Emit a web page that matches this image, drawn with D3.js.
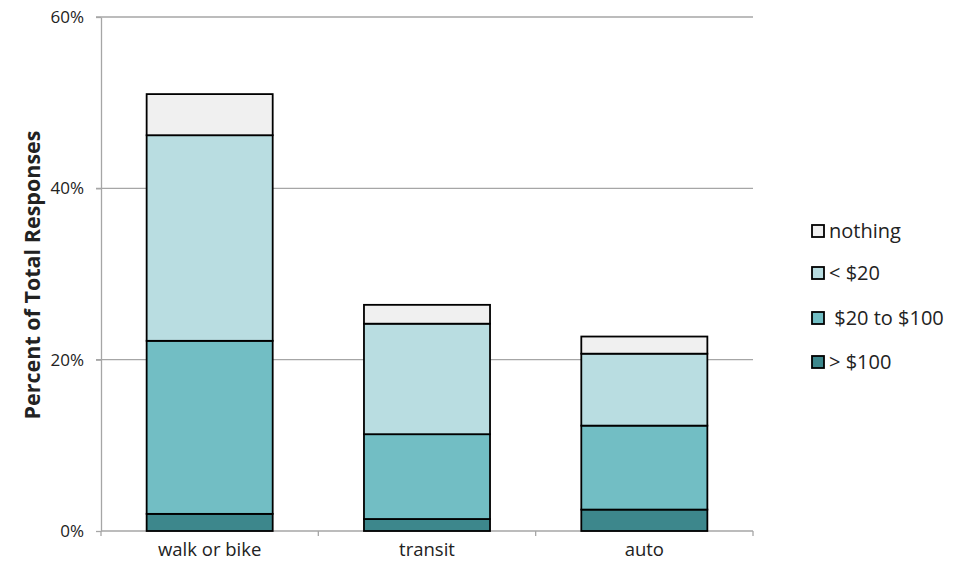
<!DOCTYPE html>
<html>
<head>
<meta charset="utf-8">
<script src="https://cdn.jsdelivr.net/npm/d3@7"></script>
<style>
  body { margin: 0; background: #fff; }
  text { font-family: "Open Sans", "Noto Sans", sans-serif; fill: #222; }
</style>
</head>
<body>
<script>
// categories and series (percent of total responses)
const categories = ["walk or bike", "transit", "auto"];
const seriesNames = ["> $100", " $20 to $100", "< $20", "nothing"];
const over100 = [2.0, 1.4, 2.5];
const from20to100 = [20.2, 9.9, 9.8];
const under20 = [24.0, 12.9, 8.4];
const nothing = [4.8, 2.2, 2.0];
const yTicks = [0, 20, 40, 60];
const colors = ["#3d878c", "#72bec4", "#b9dde1", "#f0f0f0"];

const width = 968, height = 562;
const margin = {top: 17, right: 215, bottom: 31, left: 101};

const svg = d3.select("body").append("svg")
  .attr("width", width)
  .attr("height", height);

const x = d3.scaleBand()
  .domain(categories)
  .range([margin.left, width - margin.right])
  .paddingInner(0.42)
  .paddingOuter(0.21);

const y = d3.scaleLinear()
  .domain([0, 60])
  .range([height - margin.bottom, margin.top]);

// rows for d3.stack
const table = categories.map((c, i) => ({
  cat: c,
  s0: over100[i], s1: from20to100[i], s2: under20[i], s3: nothing[i]
}));
const stack = d3.stack().keys(["s0", "s1", "s2", "s3"])(table);

// gridlines
svg.append("g")
  .selectAll("line")
  .data(yTicks.slice(1))
  .join("line")
  .attr("x1", margin.left - 5)
  .attr("x2", width - margin.right)
  .attr("y1", d => y(d))
  .attr("y2", d => y(d))
  .attr("stroke", "#a6a6a6")
  .attr("stroke-width", 1.3);

// y axis
const yAxis = svg.append("g")
  .attr("transform", `translate(${margin.left},0)`)
  .call(d3.axisLeft(y).tickValues(yTicks).tickFormat(d => d + "%").tickSize(5).tickSizeOuter(0));
yAxis.select(".domain").attr("stroke", "#a6a6a6").attr("stroke-width", 1.3);
yAxis.selectAll(".tick line").attr("stroke", "#a6a6a6").attr("stroke-width", 1.3);
yAxis.selectAll(".tick text").style("font-size", "17px").attr("x", -17).attr("fill", "#222");

// x axis with ticks on band boundaries
const xg = svg.append("g")
  .attr("transform", `translate(0,${y(0)})`);
xg.append("line")
  .attr("x1", margin.left).attr("x2", width - margin.right)
  .attr("stroke", "#a6a6a6").attr("stroke-width", 1.3);
const bounds = d3.range(categories.length + 1).map(i => margin.left + i * (width - margin.right - margin.left) / categories.length);
xg.selectAll("line.tk")
  .data(bounds)
  .join("line")
  .attr("class", "tk")
  .attr("x1", d => d).attr("x2", d => d)
  .attr("y1", 0).attr("y2", 5)
  .attr("stroke", "#a6a6a6").attr("stroke-width", 1.3);
xg.selectAll("text")
  .data(categories)
  .join("text")
  .attr("x", d => x(d) + x.bandwidth() / 2)
  .attr("y", 25)
  .attr("text-anchor", "middle")
  .style("font-size", "18.5px")
  .text(d => d);

// bars
svg.append("g")
  .selectAll("g")
  .data(stack)
  .join("g")
  .attr("fill", (d, i) => colors[i])
  .selectAll("rect")
  .data(d => d)
  .join("rect")
  .attr("x", d => x(d.data.cat))
  .attr("width", x.bandwidth())
  .attr("y", d => y(d[1]))
  .attr("height", d => y(d[0]) - y(d[1]))
  .attr("stroke", "#000")
  .attr("stroke-width", 1.8);

// y label
svg.append("text")
  .attr("transform", `translate(40,275) rotate(-90)`)
  .attr("text-anchor", "middle")
  .style("font-size", "21.5px")
  .style("font-weight", "bold")
  .attr("fill", "#000")
  .text("Percent of Total Responses");

// legend (top to bottom: nothing, <$20, $20-$100, >$100)
const legendY = [231, 273, 318, 362];
const legend = svg.append("g")
  .selectAll("g")
  .data(d3.range(seriesNames.length).reverse())
  .join("g")
  .attr("transform", (d, i) => `translate(812,${legendY[i]})`);
legend.append("rect")
  .attr("x", 0).attr("y", -6)
  .attr("width", 12).attr("height", 12)
  .attr("fill", d => colors[d])
  .attr("stroke", "#000")
  .attr("stroke-width", 1.8);
legend.append("text")
  .attr("x", 17)
  .attr("y", 0)
  .attr("dy", "0.35em")
  .style("font-size", "20px")
  .attr("xml:space", "preserve")
  .text(d => seriesNames[d]);
</script>
</body>
</html>
